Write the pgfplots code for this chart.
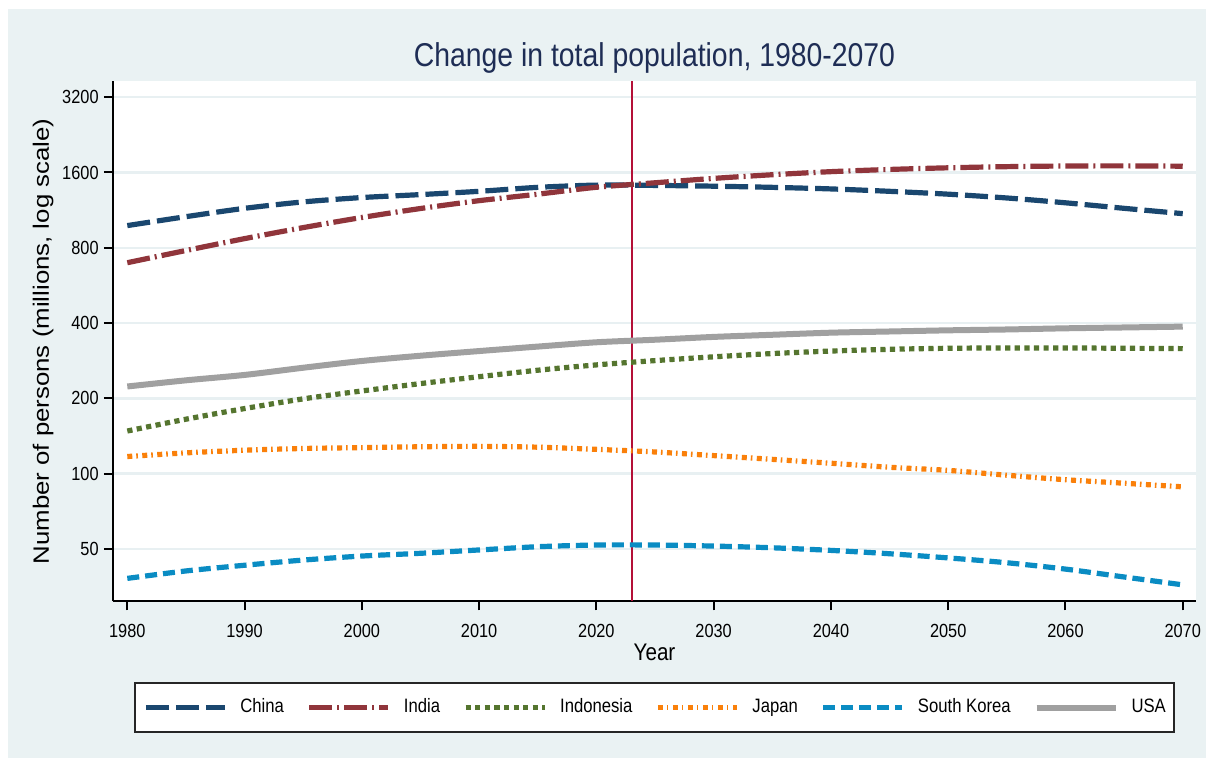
\documentclass[border=0pt]{standalone}
\usepackage{fontspec}
\usepackage{graphicx}
\usepackage{pgfplots}
\pgfplotsset{compat=1.18}
\setmainfont{Liberation Sans}[FakeStretch=0.86]
\newfontfamily\plainfont{Liberation Sans}
\definecolor{bgc}{RGB}{234,242,243}
\definecolor{gridc}{RGB}{232,240,242}
\definecolor{titlec}{RGB}{30,45,85}
\definecolor{cChina}{RGB}{26,71,111}
\definecolor{cIndia}{RGB}{144,53,59}
\definecolor{cIndo}{RGB}{85,117,47}
\definecolor{cJapan}{RGB}{250,128,10}
\definecolor{cKorea}{RGB}{10,140,195}
\definecolor{cUSA}{RGB}{160,160,160}
\definecolor{cVline}{RGB}{180,16,56}

\pgfplotstableread{
year china india indonesia japan korea usa
1980 981 697 148 117 38.1 223
1985 1065 780 165 121 40.8 236
1990 1150 870 182 124 43.0 248
1995 1220 963 199 126 45.1 265
2000 1270 1057 214 127 46.8 282
2005 1305 1148 229 128 48.0 296
2010 1345 1234 244 128.5 49.5 309
2015 1395 1310 259 127.5 51.0 322
2020 1424 1396 272 125 51.8 335
2025 1420 1455 283 122 51.8 343
2030 1410 1515 293 118 51.3 352
2035 1395 1567 302 114 50.5 359
2040 1375 1612 309 110 49.3 366
2045 1345 1645 314 106 47.8 370
2050 1310 1670 317 103 46.0 374
2055 1265 1688 318 98.5 44.0 377
2060 1210 1698 318 94.5 41.5 381
2065 1150 1700 317 91.5 38.6 384
2070 1095 1695 316 88.5 35.9 387
}\popdata

\begin{document}
\begin{tikzpicture}
\path[use as bounding box] (-56.5pt,-78.25pt) rectangle (549pt,300.75pt);
\fill[white] (-56.5pt,-78.25pt) rectangle (549pt,300.75pt);
\fill[bgc] (-52.5pt,-78.25pt) rectangle (546.5pt,296.25pt);
\begin{axis}[
  at={(0pt,0pt)}, anchor=south west,
  scale only axis, width=541.5pt, height=260pt,
  axis background/.style={fill=white},
  xmin=1978.78, xmax=2071.13,
  ymode=log, ymin=30.8, ymax=3698,
  axis x line*=bottom, axis y line*=left,
  axis line style={line width=1pt, black},
  tick style={line width=1pt, black},
  tick align=outside, major tick length=4.5pt,
  yminorticks=false, xminorticks=false,
  xtick={1980,1990,...,2070},
  xticklabels={1980,1990,2000,2010,2020,2030,2040,2050,2060,2070},
  ytick={50,100,200,400,800,1600,3200},
  yticklabels={50,100,200,400,800,1600,3200},
  ticklabel style={font=\fontsize{9.5}{11}\selectfont, inner sep=0pt},
  yticklabel style={anchor=east, xshift=-2.5pt},
  xticklabel style={anchor=north, yshift=-6.5pt},
  ymajorgrids, xmajorgrids=false,
  major grid style={line width=1.2pt, gridc},
  every axis title shift=0pt,
  title={Change in total population, 1980-2070},
  title style={at={(axis description cs:0.5,1)}, anchor=base, yshift=7.5pt, font=\fontsize{16.5}{19}\selectfont, text=titlec, inner sep=0pt},
  xlabel={Year},
  xlabel style={at={(axis description cs:0.5,0)}, anchor=base, yshift=-29.75pt, font=\fontsize{12}{14}\selectfont, inner sep=0pt},
  ylabel={\plainfont\fontsize{12.9}{15}\selectfont\scalebox{1}[0.86]{Number of persons (millions, log scale)}},
  ylabel style={at={(axis description cs:-0.0646,0.5)}, anchor=center, rotate=0, inner sep=0pt},
  legend columns=6,
  legend cell align=left,
  legend image code/.code={\draw[#1] (0pt,0pt) -- (39.5pt,0pt);},
  legend style={at={(axis description cs:0.5,0)}, anchor=north, yshift=-40.5pt,
    draw=black!85, line width=1pt, fill=white,
    inner xsep=4pt, inner ysep=7.5pt,
    font=\fontsize{9.7}{11}\selectfont,
    nodes={inner sep=0pt, text depth=0.22em},
    /tikz/every odd column/.append style={column sep=6.5pt},
    /tikz/every even column/.append style={column sep=11.4pt}},
]
\addplot[cVline, line width=1pt, forget plot] coordinates {(2023,30.8) (2023,3698)};
\addplot[cChina, line width=2.6pt, dash pattern=on 11.5pt off 3.5pt, smooth] table[x=year,y=china] {\popdata};
\addlegendentry{China}
\addplot[cIndia, line width=2.6pt, dash pattern=on 11.5pt off 2.5pt on 1pt off 2.5pt, smooth] table[x=year,y=india] {\popdata};
\addlegendentry{India}
\addplot[cIndo, line width=2.6pt, dash pattern=on 2.6pt off 2.2pt, smooth] table[x=year,y=indonesia] {\popdata};
\addlegendentry{Indonesia}
\addplot[cJapan, line width=2.6pt, dash pattern=on 2.5pt off 2pt on 0.8pt off 2.2pt, smooth] table[x=year,y=japan] {\popdata};
\addlegendentry{Japan}
\addplot[cKorea, line width=2.6pt, dash pattern=on 6pt off 3pt, smooth] table[x=year,y=korea] {\popdata};
\addlegendentry{South Korea}
\addplot[cUSA, line width=3pt, smooth] table[x=year,y=usa] {\popdata};
\addlegendentry{USA}
\end{axis}
\end{tikzpicture}
\end{document}
